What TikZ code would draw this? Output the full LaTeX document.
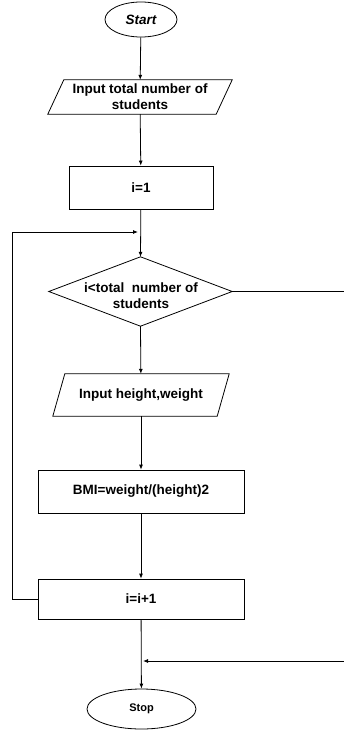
\documentclass[tikz,border=0pt]{standalone}
\usepackage{fontspec}
\setmainfont{Liberation Sans}
\usetikzlibrary{arrows.meta,shapes.geometric}
\begin{document}
\begin{tikzpicture}[x=1pt,y=-1pt,
  every node/.style={inner sep=0pt,font=\fontsize{13.5}{16}\selectfont\bfseries,align=center},
  line/.style={draw=black,line width=0.8pt},
  flow/.style={line,-{Latex[length=5pt,width=4pt]}},
  term/.style={ellipse,draw,line width=0.8pt},
  procbox/.style={rectangle,draw,line width=0.8pt}]
\useasboundingbox (0,0) rectangle (343,730);
% terminals
\node[term,minimum width=72pt,minimum height=35pt,font=\fontsize{13.5}{16}\selectfont\bfseries\itshape] (start) at (141,19.5) {Start};
\node[term,minimum width=109pt,minimum height=40pt,font=\fontsize{11}{13}\selectfont\bfseries] (stop) at (141.5,709) {Stop};
% input of the class size
\node[minimum width=184pt,minimum height=34pt] (in1) at (140,97) {Input total number of\\students};
\draw[line] ([xshift=16pt]in1.north west) -- (in1.north east) -- ([xshift=-16pt]in1.south east) -- (in1.south west) -- cycle;
% counter start
\node[procbox,minimum width=144pt,minimum height=43pt] (init) at (141,187.5) {i=1};
% loop test
\node[minimum width=183pt,minimum height=69pt] (test) at (140.5,291.5) {};
\node (testlabel) at (141,295.5) {i<total\ \ number of\\students};
\draw[line] (test.north) -- (test.east) -- (test.south) -- (test.west) -- cycle;
% input of one student's data
\node[minimum width=176pt,minimum height=42pt] (in2) at (141,395) {Input height,weight};
\draw[line] ([xshift=12pt]in2.north west) -- (in2.north east) -- ([xshift=-12pt]in2.south east) -- (in2.south west) -- cycle;
% computation
\node[procbox,minimum width=206pt,minimum height=43pt] (bmi) at (141,491.5) {BMI=weight/(height)2};
\node[procbox,minimum width=206pt,minimum height=40pt] (incr) at (141,599) {i=i+1};
% junction points
\coordinate (loopin) at (141,232);
\coordinate (merge) at (141,661);
\coordinate (lc) at (12,232);
\coordinate (rc) at (346,661);
% connectors
\draw[flow] (start) -- (in1);
\draw[flow] (in1) -- (init);
\draw[flow] (init) -- (test.north);
\draw[flow] (incr.west) -| (lc) -- ([xshift=-3pt]loopin);
\draw[flow] (test.south) -- (in2);
\draw[flow] (in2) -- (bmi);
\draw[flow] (bmi) -- (incr);
\draw[flow] (incr) -- (stop);
\draw[line] (test.east) -| (rc);
\draw[flow] (rc) -- ([xshift=2pt]merge);
\end{tikzpicture}
\end{document}
